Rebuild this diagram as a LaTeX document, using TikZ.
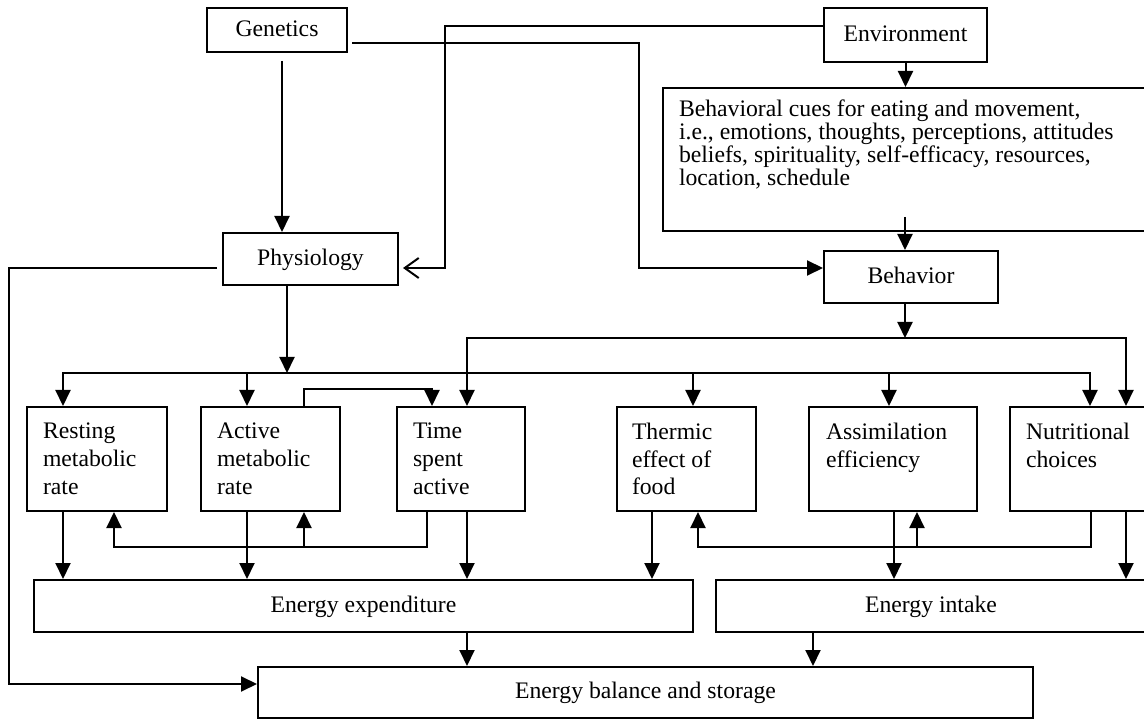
\documentclass[tikz,border=0pt]{standalone}
\usepackage{fontspec}
\setmainfont{Liberation Serif}
\usetikzlibrary{arrows.meta,calc}
\newcommand\myfs{\fontsize{23.7pt}{27.7pt}\selectfont}
\newcommand\cuesfs{\fontsize{23.7pt}{22.8pt}\selectfont}
\begin{document}
\begin{tikzpicture}[x=1pt,y=-1pt,line width=2pt,
  box/.style={draw,line width=2pt,inner sep=0pt,font=\myfs,text height=18pt,text depth=5.9pt},
  tall/.style={box,minimum height=104pt},
  lbl/.style={inner sep=0pt,align=left,font=\myfs,anchor=north west},
  arr/.style={-{Triangle[length=16pt,width=15pt]}},
  barb/.style={-{Straight Barb[length=14pt,width=20pt]}}]
\fill[white] (0,0) rectangle (1144,719);
\useasboundingbox (0,0) rectangle (1144,719);

% nodes
\node[box,minimum width=140pt,minimum height=44pt] (gen) at (277,30) {Genetics};
\node[box,minimum width=163pt,minimum height=54pt] (env) at (905.5,35) {Environment};
\node[box,minimum width=483pt,minimum height=143pt] (cues) at (904.5,159.5) {};
\node[lbl,font=\cuesfs] (cuestext) at ($(cues.north west)+(16,12)$)
  {Behavioral cues for eating and movement,\\i.e., emotions, thoughts, perceptions, attitudes\\beliefs, spirituality, self-efficacy, resources,\\location, schedule};
\node[box,minimum width=175pt,minimum height=52pt] (phys) at (310.5,259) {Physiology};
\node[box,minimum width=174pt,minimum height=52pt] (beh) at (911,277) {Behavior};

\node[tall,minimum width=140pt] (rest) at (97,459) {};
\node[tall,minimum width=139pt] (act) at (270.5,459) {};
\node[tall,minimum width=128pt] (time) at (461,459) {};
\node[tall,minimum width=139pt] (therm) at (686.5,459) {};
\node[tall,minimum width=168pt] (assim) at (893,459) {};
\node[tall,minimum width=136pt] (nutr) at (1078,459) {};
\node[lbl] (resttext) at ($(rest.north west)+(16,16)$) {Resting\\metabolic\\rate};
\node[lbl] (acttext) at ($(act.north west)+(16,16)$) {Active\\metabolic\\rate};
\node[lbl] (timetext) at ($(time.north west)+(16,16)$) {Time\\spent\\active};
\node[lbl] (thermtext) at ($(therm.north west)+(15,16)$) {Thermic\\effect of\\food};
\node[lbl] (assimtext) at ($(assim.north west)+(17,16)$) {Assimilation\\efficiency};
\node[lbl] (nutrtext) at ($(nutr.north west)+(16,16)$) {Nutritional\\choices};

\node[box,minimum width=659pt,minimum height=52pt] (exp) at (363.5,606) {Energy expenditure};
\node[box,minimum width=430pt,minimum height=52pt] (intk) at (931,606) {Energy intake};
\node[box,minimum width=775pt,minimum height=51pt] (bal) at (645.5,692.5) {Energy balance and storage};

% connectors
\draw[arr] ($(gen.south)+(5,8)$) -- ($(phys.north)+(-28.5,0)$);
\draw[arr] ($(gen.east)+(4,13)$) -| ($(beh.west)+(-184,-9)$) -- ($(beh.west)+(0,-9)$);
\draw[barb] ($(env.west)+(0,-9)$) -| ($(phys.east)+(46,9)$) -- ($(phys.east)+(4,9)$);
\draw[arr] (env.south) -- (env.south |- cues.north);
\draw[arr] ($(cues.south)+(0.5,-15)$) -- ($(beh.north)+(-6,0)$);
\draw[arr] ($(phys.west)+(-5,9)$) -| ($(bal.west)+(-248,-8.5)$) -- ($(bal.west)+(0,-8.5)$);

\coordinate (pbus) at ($(phys.south)+(-23.5,87)$);
\draw[arr] ($(phys.south)+(-23.5,0)$) -- (pbus);
\foreach \n/\dx in {rest/-34,act/-23.5,therm/6.5,assim/-4,nutr/12}
  {\draw[arr] (pbus) -| ($(\n.north)+(\dx,0)$);}

\coordinate (bbus) at ($(beh.south)+(-6,34)$);
\draw[arr] ($(beh.south)+(-6,0)$) -- (bbus);
\draw[arr] (bbus) -| ($(time.north)+(6,0)$);
\draw[arr] (bbus) -| ($(nutr.north)+(48,0)$);

\draw[arr] ($(act.north)+(33.5,0)$) -- ++(0,-17) -| ($(time.north)+(-29,0)$);

\draw[arr] ($(time.south)+(-34,0)$) |- ($(rest.south)+(17,35)$) -- ($(rest.south)+(17,0)$);
\draw[arr] ($(act.south)+(33.5,35)$) -- ($(act.south)+(33.5,0)$);
\draw[arr] ($(nutr.south)+(13,0)$) |- ($(therm.south)+(11.5,35)$) -- ($(therm.south)+(11.5,0)$);
\draw[arr] ($(assim.south)+(24,35)$) -- ($(assim.south)+(24,0)$);

\foreach \n/\dx in {rest/-34,act/-23.5,time/6,therm/-34.5}
  {\coordinate (s) at ($(\n.south)+(\dx,0)$); \draw[arr] (s) -- (s |- exp.north);}
\foreach \n/\dx in {assim/1,nutr/48}
  {\coordinate (s) at ($(\n.south)+(\dx,0)$); \draw[arr] (s) -- (s |- intk.north);}

\draw[arr] ($(exp.south)+(103.5,0)$) -- ($(bal.north)+(-178.5,0)$);
\draw[arr] ($(intk.south)+(-118,0)$) -- ($(bal.north)+(167.5,0)$);
\end{tikzpicture}
\end{document}
